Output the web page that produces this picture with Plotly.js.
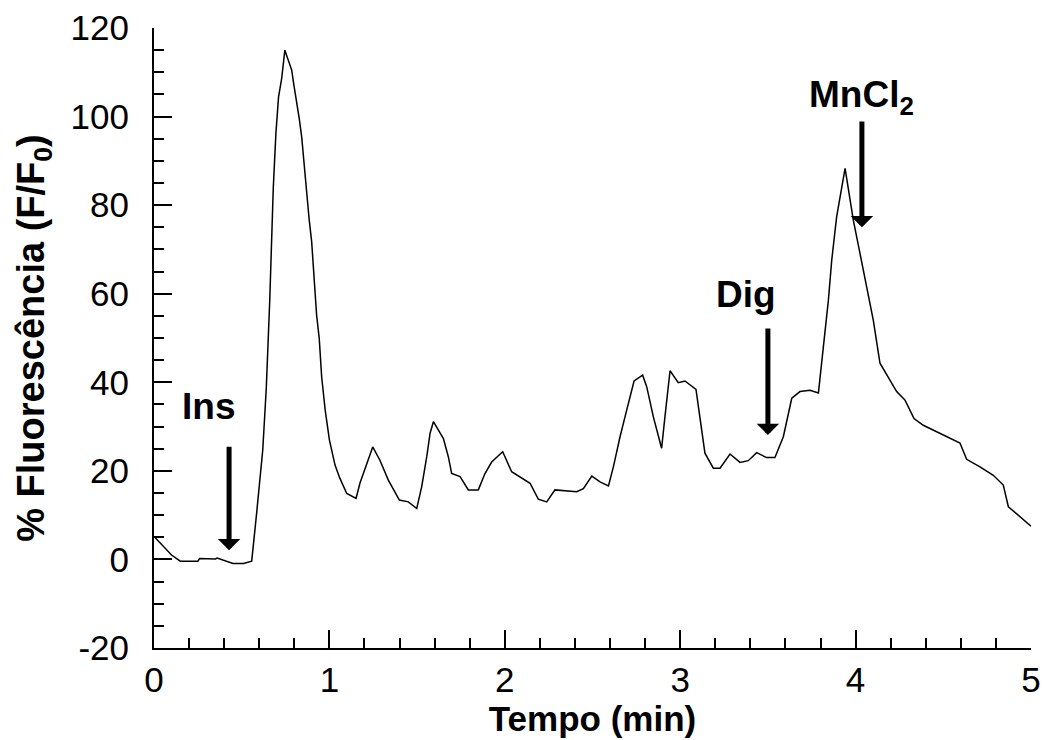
<!DOCTYPE html>
<html>
<head>
<meta charset="utf-8">
<script src="https://cdn.plot.ly/plotly-3.0.1.min.js"></script>
<style>html,body{margin:0;padding:0;background:#fff;}#chart{width:1042px;height:740px;}</style>
</head>
<body>
<div id="chart"></div>
<script>
// Time (min)
const tempo = [0, 0.05, 0.1, 0.15, 0.25, 0.26, 0.35, 0.36, 0.42, 0.45, 0.51, 0.557, 0.585, 0.62, 0.64, 0.66, 0.68, 0.695, 0.71, 0.728, 0.746, 0.766, 0.785, 0.798, 0.813, 0.828, 0.842, 0.851, 0.86, 0.874, 0.885, 0.899, 0.908, 0.918, 0.927, 0.942, 0.956, 0.976, 1.0, 1.032, 1.06, 1.099, 1.152, 1.174, 1.213, 1.247, 1.288, 1.336, 1.399, 1.45, 1.498, 1.526, 1.555, 1.574, 1.593, 1.65, 1.678, 1.697, 1.745, 1.792, 1.849, 1.887, 1.925, 1.988, 2.039, 2.087, 2.144, 2.191, 2.239, 2.286, 2.343, 2.41, 2.448, 2.496, 2.543, 2.591, 2.619, 2.657, 2.695, 2.737, 2.786, 2.809, 2.847, 2.894, 2.913, 2.942, 2.989, 3.027, 3.09, 3.113, 3.141, 3.189, 3.227, 3.284, 3.341, 3.388, 3.436, 3.493, 3.54, 3.588, 3.636, 3.683, 3.74, 3.788, 3.816, 3.845, 3.864, 3.892, 3.94, 3.987, 4.025, 4.063, 4.101, 4.139, 4.186, 4.234, 4.281, 4.333, 4.386, 4.49, 4.595, 4.633, 4.709, 4.785, 4.842, 4.871, 4.937, 5.0];
// % Fluorescence (F/F0)
const fluorescencia = [5.2, 3.2, 1.0, -0.4, -0.4, 0.2, 0.1, 0.3, -0.4, -0.9, -0.9, -0.4, 10.4, 24.7, 38.6, 58.6, 83.8, 96.2, 104.4, 108.6, 115, 112.7, 110.5, 107, 103.7, 99.6, 95.4, 91.3, 86.8, 81.9, 76.6, 71.7, 66.8, 61.2, 55.2, 49.9, 41.2, 33.7, 27, 21.3, 18.3, 14.9, 13.8, 17.2, 21.7, 25.4, 22.4, 17.9, 13.4, 13, 11.5, 16.4, 23.2, 28.5, 31.1, 27.3, 23.2, 19.4, 18.7, 15.7, 15.7, 19.4, 22, 24.3, 19.8, 18.7, 17.2, 13.6, 13, 15.7, 15.5, 15.3, 16, 18.8, 17.5, 16.6, 20.9, 27.7, 33.7, 40.3, 41.6, 39, 32.2, 25.1, 32.2, 42.6, 39.9, 40.3, 38.4, 32.2, 24, 20.6, 20.6, 23.8, 21.9, 22.3, 24.1, 23, 23, 27.7, 36.4, 37.9, 38.2, 37.6, 47.3, 58.6, 67.6, 77.4, 88.3, 76.6, 69.1, 61.6, 54, 44.3, 41.2, 37.9, 36, 31.8, 30.3, 28.3, 26.3, 22.6, 20.9, 19, 16.8, 11.9, 9.6, 7.5];

// Event markers
const eventLabels = ["Ins", "Dig", "MnCl<sub>2</sub>"];
const eventX = [0.428, 3.5, 4.036];
const arrowTip = [2.1, 28.1, 75];
const arrowTail = [25.8, 52.5, 99.2];
const labelX = [0.308, 3.375, 4.036];
const labelY = [34.6, 59.9, 104.4];

const xTickVals = [0, 1, 2, 3, 4, 5];
const yTickVals = [-20, 0, 20, 40, 60, 80, 100, 120];

const FONT = '"Liberation Sans", Arial, sans-serif';

const annotations = [];
for (let i = 0; i < eventLabels.length; i++) {
  annotations.push({
    x: eventX[i], y: arrowTip[i], ax: eventX[i], ay: arrowTail[i],
    xref: 'x', yref: 'y', axref: 'x', ayref: 'y',
    showarrow: true, arrowhead: 1, arrowwidth: 5, arrowsize: 0.75,
    arrowcolor: '#000', standoff: 0, startstandoff: 0, text: ''
  });
  annotations.push({
    x: labelX[i], y: labelY[i], xref: 'x', yref: 'y',
    text: '<b>' + eventLabels[i] + '</b>', showarrow: false,
    font: {family: FONT, size: 37, color: '#000'},
    xanchor: 'center', yanchor: 'middle'
  });
}

const trace = {
  x: tempo, y: fluorescencia, type: 'scatter', mode: 'lines',
  line: {color: '#000', width: 1.5}, hoverinfo: 'skip'
};

const axisCommon = {
  showline: true, linecolor: '#000', linewidth: 2,
  ticks: 'inside', ticklen: 18, tickwidth: 2, tickcolor: '#000',
  showgrid: false, zeroline: false,
  tickfont: {family: FONT, size: 35, color: '#000'}
};

const layout = {
  width: 1042, height: 740,
  margin: {l: 154, r: 11, t: 28, b: 92, pad: 0},
  paper_bgcolor: '#fff', plot_bgcolor: '#fff',
  showlegend: false,
  xaxis: Object.assign({}, axisCommon, {
    range: [0, 5], tickvals: xTickVals, ticktext: xTickVals.map(String),
    ticklabelstandoff: 0,
    minor: {dtick: 0.2, ticks: 'inside', ticklen: 10, tickwidth: 2, tickcolor: '#000', showgrid: false},
    title: {text: '<b>Tempo (min)</b>', font: {family: FONT, size: 35, color: '#000'}, standoff: 0}
  }),
  yaxis: Object.assign({}, axisCommon, {
    range: [-20, 120], tickvals: yTickVals, ticktext: yTickVals.map(String),
    ticklabelstandoff: 16,
    minor: {dtick: 5, ticks: 'inside', ticklen: 10, tickwidth: 2, tickcolor: '#000', showgrid: false},
    title: {text: '<b>% Fluorescência (F/F<sub>0</sub>)</b>', font: {family: FONT, size: 38, color: '#000'}, standoff: 14}
  }),
  annotations: annotations
};

Plotly.newPlot('chart', [trace], layout, {displayModeBar: false, staticPlot: true});
</script>
</body>
</html>
